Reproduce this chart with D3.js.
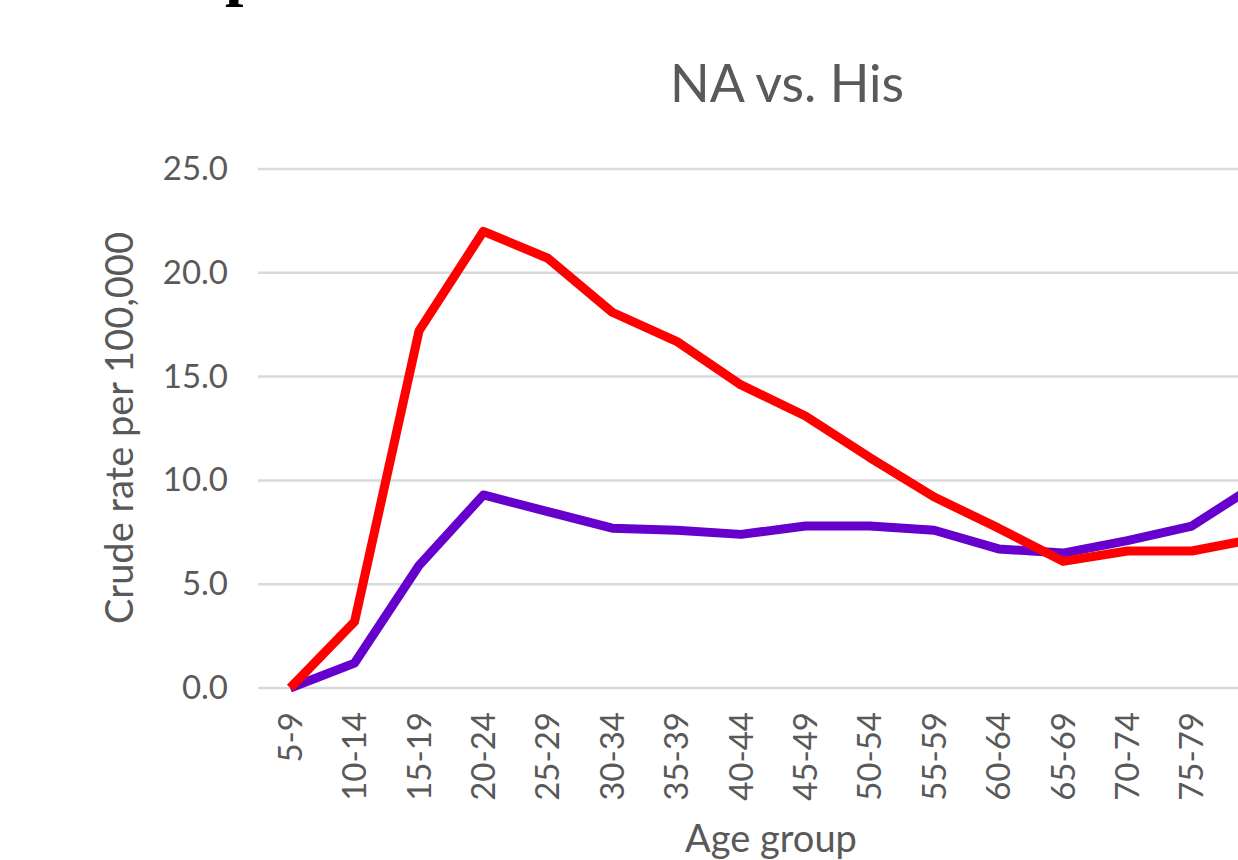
<!DOCTYPE html>
<html>
<head>
<meta charset="utf-8">
<script src="https://cdn.jsdelivr.net/npm/d3@7"></script>
<style>
  body { margin: 0; background: #fff; }
  svg { display: block; font-family: Lato, "Open Sans", sans-serif; }
</style>
</head>
<body>
<svg id="chart" width="1238" height="860"></svg>
<script>
// age groups (the last one is cut off by the right edge)
const ageGroups = ["5-9", "10-14", "15-19", "20-24", "25-29", "30-34", "35-39", "40-44",
  "45-49", "50-54", "55-59", "60-64", "65-69", "70-74", "75-79", "80-84"];
const naRates = [0.0, 3.2, 17.2, 22.0, 20.7, 18.1, 16.7, 14.6, 13.1, 11.1, 9.2, 7.7, 6.1, 6.6, 6.6, 7.2];
const hisRates = [0.0, 1.2, 5.9, 9.3, 8.5, 7.7, 7.6, 7.4, 7.8, 7.8, 7.6, 6.7, 6.5, 7.1, 7.8, 9.8];
const yTicks = [0, 5, 10, 15, 20, 25];

const svg = d3.select("#chart");
const textColor = "#595959";

const x = d3.scaleBand()
  .domain(ageGroups)
  .range([258, 258 + ageGroups.length * 64.4]);

const y = d3.scaleLinear()
  .domain([0, 25])
  .range([688, 169]);

const xc = d => x(d) + x.bandwidth() / 2;

// bit of the heading above, cut off at the top
svg.append("text")
  .attr("x", 225)
  .attr("y", -7)
  .style("font-family", "'Liberation Serif', serif")
  .style("font-weight", "bold")
  .style("font-size", "66px")
  .attr("fill", "#000")
  .text("p");

// gridlines
svg.append("g")
  .selectAll("line")
  .data(yTicks)
  .enter()
  .append("line")
  .attr("x1", 258)
  .attr("x2", 1300)
  .attr("y1", d => y(d))
  .attr("y2", d => y(d))
  .attr("stroke", "#d9d9d9")
  .attr("stroke-width", 2.5);

// y axis labels
const yAxis = svg.append("g")
  .attr("transform", "translate(258,0)")
  .call(d3.axisLeft(y).tickValues(yTicks).tickFormat(d3.format(".1f")).tickSize(0).tickPadding(30));
yAxis.select(".domain").remove();
yAxis.selectAll("text")
  .attr("fill", textColor)
  .style("font-size", "33px")
  .style("font-family", "Lato, sans-serif");

// x axis labels, rotated (the last one falls outside the picture)
const xAxis = svg.append("g")
  .attr("transform", "translate(0,688)")
  .call(d3.axisBottom(x).tickValues(ageGroups.slice(0, -1)).tickSize(0));
xAxis.select(".domain").remove();
xAxis.selectAll("text")
  .attr("transform", "rotate(-90)")
  .attr("x", -24)
  .attr("y", 0)
  .attr("dy", "0.35em")
  .style("text-anchor", "end")
  .attr("fill", textColor)
  .style("font-size", "33px")
  .style("font-family", "Lato, sans-serif");

const line = d3.line()
  .x((d, i) => xc(ageGroups[i]))
  .y(d => y(d));

svg.append("path")
  .datum(hisRates)
  .attr("d", line)
  .attr("fill", "none")
  .attr("stroke", "#6600cc")
  .attr("stroke-width", 9)
  .attr("stroke-linejoin", "round");

svg.append("path")
  .datum(naRates)
  .attr("d", line)
  .attr("fill", "none")
  .attr("stroke", "#ff0000")
  .attr("stroke-width", 9)
  .attr("stroke-linejoin", "round");

// titles
svg.append("text")
  .attr("x", 787)
  .attr("y", 102)
  .attr("text-anchor", "middle")
  .attr("fill", textColor)
  .style("font-size", "52px")
  .text("NA vs. His");

svg.append("text")
  .attr("x", 771)
  .attr("y", 852)
  .attr("text-anchor", "middle")
  .attr("fill", textColor)
  .style("font-size", "38px")
  .text("Age group");

svg.append("text")
  .attr("transform", "translate(133,428) rotate(-90)")
  .attr("text-anchor", "middle")
  .attr("fill", textColor)
  .style("font-size", "38px")
  .text("Crude rate per 100,000");
</script>
</body>
</html>
